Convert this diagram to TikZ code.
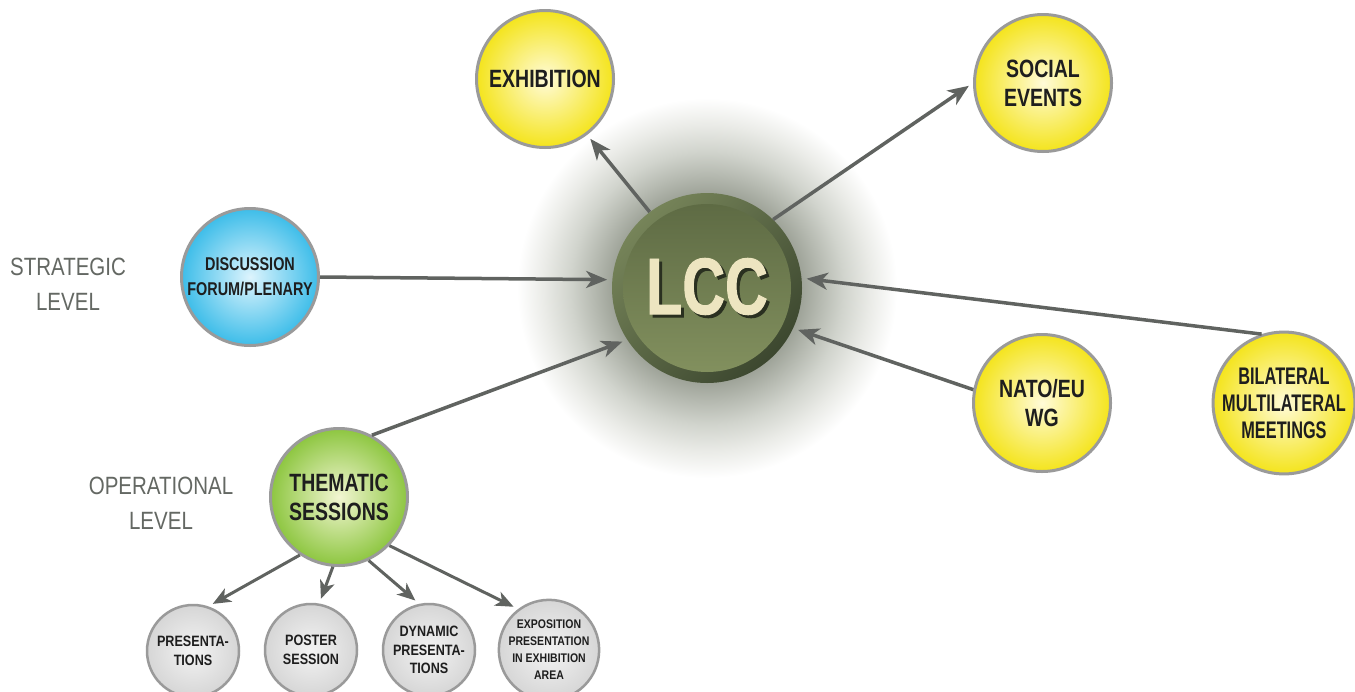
\documentclass[tikz,border=0pt]{standalone}
\usepackage{fontspec}
\usepackage{tikz}
\usetikzlibrary{arrows.meta, positioning, calc}
\newfontfamily\condfont{Liberation Sans}[FakeStretch=0.78]
\newfontfamily\lccfont{Liberation Sans}[FakeStretch=0.74, FakeBold=1.2]
\newfontfamily\narrowcond{Liberation Sans}[FakeStretch=0.68]
\newfontfamily\labelcond{Liberation Sans}[FakeStretch=0.82]
\newfontfamily\smallcond{Liberation Sans}[FakeStretch=0.84]
\definecolor{inkBlack}{HTML}{1E1E1E}
\definecolor{rimGray}{HTML}{9A9A9A}
\definecolor{arrowGray}{HTML}{606360}
\definecolor{levelGray}{HTML}{646863}
\definecolor{yellowIn}{HTML}{FFFBD8}
\definecolor{yellowOut}{HTML}{F4E41C}
\definecolor{blueIn}{HTML}{DDF4FD}
\definecolor{blueOut}{HTML}{3DBDE9}
\definecolor{greenIn}{HTML}{F2F6D2}
\definecolor{greenOut}{HTML}{8DC640}
\definecolor{grayIn}{HTML}{F3F3F3}
\definecolor{grayOut}{HTML}{D6D6D6}
\definecolor{glowA}{HTML}{6F7668}
\definecolor{glowB}{HTML}{9A9F94}
\definecolor{glowC}{HTML}{B6BAB1}
\definecolor{glowD}{HTML}{D1D4CD}
\definecolor{glowE}{HTML}{EAEBE7}
\definecolor{oliveLight}{HTML}{768459}
\definecolor{oliveDark}{HTML}{3C472F}
\definecolor{oliveTop}{HTML}{5E6B44}
\definecolor{oliveBottom}{HTML}{82905E}
\definecolor{lccCream}{HTML}{EDE5C0}
\definecolor{lccShadow}{HTML}{2A3020}
\pgfdeclareradialshading{lccglow}{\pgfpoint{0bp}{0bp}}{color(0bp)=(glowA); color(12bp)=(glowB); color(15bp)=(glowC); color(18bp)=(glowD); color(21.5bp)=(glowE); color(25bp)=(white); color(50bp)=(white)}

\begin{document}
\begin{tikzpicture}[x=1pt, y=-1pt,
    bubble/.style={circle, draw=rimGray, line width=3pt, inner sep=0pt, minimum size=137pt,
        align=center, text=inkBlack, font=\condfont\bfseries\fontsize{25}{29}\selectfont},
    yellowbubble/.style={bubble, shading=radial, inner color=yellowIn, outer color=yellowOut},
    bluebubble/.style={bubble, shading=radial, inner color=blueIn, outer color=blueOut,
        font=\condfont\bfseries\fontsize{18.5}{25}\selectfont},
    greenbubble/.style={bubble, shading=radial, inner color=greenIn, outer color=greenOut},
    smallbubble/.style={bubble, minimum size=92pt, line width=2.5pt, shading=radial,
        inner color=grayIn, outer color=grayOut, font=\smallcond\bfseries\fontsize{15}{18.5}\selectfont},
    levellabel/.style={align=center, text=levelGray, font=\labelcond\fontsize{25}{35}\selectfont},
    arr/.style={-{Stealth[length=21pt, width=17pt, inset=6pt]}, line width=3.5pt, draw=arrowGray, shorten >=5pt},
    smallarr/.style={arr, -{Stealth[length=18pt, width=15pt, inset=5pt]}, line width=3pt}]
    \fill[white] (0,0) rectangle (1355,691);
    \useasboundingbox (0,0) rectangle (1355,691);

    % glow and centre disc
    \shade[shading=lccglow] (707,288) circle (190pt);
    \node (lcc) [circle, minimum size=190pt, inner sep=0pt, shading=axis, top color=oliveLight,
        bottom color=oliveDark, shading angle=45] at (707,288) {};
    \shade[top color=oliveTop, bottom color=oliveBottom] (lcc.center) circle (84pt);
    \node[text=lccCream, font=\lccfont\bfseries\fontsize{80}{80}\selectfont] at (lcc.center)
        {\makebox[0pt][l]{\hspace{3pt}\raisebox{-3pt}{\textcolor{lccShadow}{LCC}}}LCC};

    % outer bubbles
    \node (exh) [yellowbubble] at (545,79) {EXHIBITION};
    \node (soc) [yellowbubble] at (1043,83) {SOCIAL\\EVENTS};
    \node (nato) [yellowbubble] at (1042,403) {NATO/EU\\WG};
    \node (bil) [yellowbubble, font=\narrowcond\bfseries\fontsize{24}{27}\selectfont] at (1284,403)
        {BILATERAL\\MULTILATERAL\\MEETINGS};
    \node (dis) [bluebubble] at (250,277) {DISCUSSION\\FORUM/PLENARY};
    \node (them) [greenbubble] at (339,497) {THEMATIC\\SESSIONS};

    \node (pres) [smallbubble] at (193,651) {PRESENTA-\\TIONS};
    \node (post) [smallbubble] at (311,650) {POSTER\\SESSION};
    \node (dyn) [smallbubble] at (429,650) {DYNAMIC\\PRESENTA-\\TIONS};
    \node (expo) [smallbubble, font=\smallcond\bfseries\fontsize{12.5}{17}\selectfont] at (549,650)
        {EXPOSITION\\PRESENTATION\\IN EXHIBITION\\AREA};

    \node[levellabel] at (68,284) {STRATEGIC\\LEVEL};
    \node[levellabel] at (161,503) {OPERATIONAL\\LEVEL};

    % connectors
    \draw[arr] (lcc.127) -- (exh.307);
    \draw[arr] (lcc.46) -- (soc.west);
    \draw[arr] (dis.east) -- (lcc.175);
    \draw[arr] (them.62) -- (lcc.213);
    \draw[arr] (nato.169) -- (lcc.335);
    \draw[arr] (bil.108) -- (lcc.6);

    \draw[smallarr] (them.236) -- (pres.71);
    \draw[smallarr] (them.265) -- (post.80);
    \draw[smallarr] (them.295) -- (dyn.102);
    \draw[smallarr] (them.316) -- (expo.127);
\end{tikzpicture}
\end{document}
